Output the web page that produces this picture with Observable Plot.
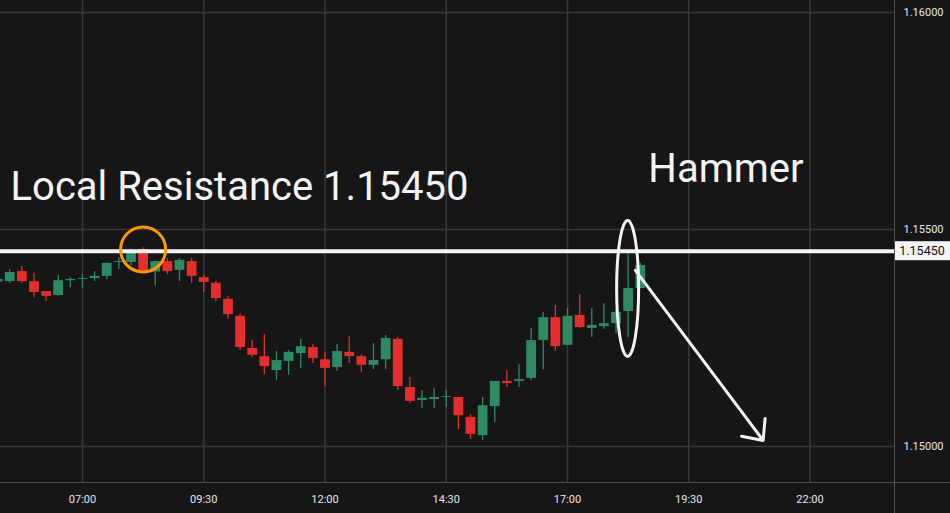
<!DOCTYPE html>
<html><head><meta charset="utf-8">
<script src="https://cdn.jsdelivr.net/npm/d3@7"></script>
<script src="https://cdn.jsdelivr.net/npm/@observablehq/plot@0.6"></script>
<style>
html,body{margin:0;padding:0;background:#161616;}
#chart{width:950px;height:513px;overflow:hidden;}
svg{display:block;}
</style></head><body><div id="chart"></div>
<script>
// 15-minute EUR/USD-style candles
const times = ["05:15","05:30","05:45","06:00","06:15","06:30","06:45","07:00","07:15","07:30","07:45","08:00","08:15","08:30","08:45","09:00","09:15","09:30","09:45","10:00","10:15","10:30","10:45","11:00","11:15","11:30","11:45","12:00","12:15","12:30","12:45","13:00","13:15","13:30","13:45","14:00","14:15","14:30","14:45","15:00","15:15","15:30","15:45","16:00","16:15","16:30","16:45","17:00","17:15","17:30","17:45","18:00","18:15","18:30"];
const open  = [1.15379,1.15380,1.15403,1.15380,1.15357,1.15348,1.15382,1.15385,1.15387,1.15392,1.15424,1.15424,1.15454,1.15402,1.15426,1.15406,1.15426,1.15389,1.15376,1.15339,1.15300,1.15226,1.15207,1.15175,1.15196,1.15214,1.15228,1.15200,1.15182,1.15217,1.15207,1.15187,1.15200,1.15247,1.15136,1.15106,1.15108,1.15113,1.15113,1.15067,1.15025,1.15092,1.15150,1.15150,1.15157,1.15244,1.15297,1.15233,1.15302,1.15272,1.15276,1.15283,1.15311,1.15364];
const high  = [1.15387,1.15408,1.15415,1.15399,1.15357,1.15394,1.15389,1.15396,1.15403,1.15422,1.15435,1.15455,1.15458,1.15426,1.15433,1.15433,1.15433,1.15394,1.15380,1.15346,1.15306,1.15244,1.15258,1.15219,1.15221,1.15247,1.15235,1.15217,1.15235,1.15253,1.15212,1.15237,1.15256,1.15251,1.15159,1.15129,1.15134,1.15129,1.15113,1.15074,1.15113,1.15150,1.15175,1.15189,1.15272,1.15309,1.15325,1.15318,1.15350,1.15318,1.15329,1.15314,1.15447,1.15422];
const low   = [1.15376,1.15376,1.15376,1.15343,1.15334,1.15346,1.15366,1.15364,1.15380,1.15385,1.15408,1.15417,1.15400,1.15369,1.15396,1.15380,1.15376,1.15355,1.15334,1.15293,1.15221,1.15205,1.15166,1.15152,1.15164,1.15180,1.15191,1.15138,1.15173,1.15191,1.15170,1.15177,1.15177,1.15129,1.15099,1.15088,1.15088,1.15090,1.15039,1.15016,1.15014,1.15055,1.15136,1.15136,1.15152,1.15177,1.15219,1.15233,1.15272,1.15251,1.15270,1.15260,1.15251,1.15364];
const close = [1.15385,1.15401,1.15380,1.15355,1.15346,1.15382,1.15385,1.15387,1.15392,1.15422,1.15426,1.15449,1.15403,1.15426,1.15403,1.15429,1.15392,1.15378,1.15341,1.15304,1.15228,1.15210,1.15184,1.15198,1.15217,1.15230,1.15203,1.15180,1.15219,1.15207,1.15187,1.15198,1.15249,1.15138,1.15104,1.15111,1.15113,1.15115,1.15071,1.15028,1.15094,1.15150,1.15145,1.15154,1.15244,1.15297,1.15230,1.15300,1.15274,1.15279,1.15283,1.15309,1.15364,1.15417];

const timeTicks = ["07:00","09:30","12:00","14:30","17:00","19:30","22:00"];
const priceTicks = [1.15, 1.155, 1.16];
const resistance = 1.15450;
const resistanceLabel = "1.15450";
const viewStartMin = 318.6, viewEndMin = 1424.5;   // visible time window (minutes of day)
const priceMin = 1.1491475, priceMax = 1.1602765;   // visible price window

// annotations
const circleAt = {time: "08:15", price: 1.15454};
const ellipseAt = {time: "18:15", price: 1.15363};
const arrowFrom = {time: "18:24", price: 1.15406};
const arrowTo = {time: "21:02", price: 1.15014};
const notes = [
  {time: "05:31", price: 1.155968, text: "Local Resistance 1.15450"},
  {time: "18:40", price: 1.156382, text: "Hammer"}
];

const DAY = Date.UTC(2025, 0, 6);
const toDate = s => { const [h, m] = s.split(":").map(Number); return new Date(DAY + (h * 60 + m) * 60000); };
const minDate = m => new Date(DAY + m * 60000);

const candles = times.map((t, i) => ({time: toDate(t), open: open[i], high: high[i], low: low[i], close: close[i]}));
const GREEN = "#2f8a62", RED = "#e42d2d";
const col = d => d.close >= d.open ? GREEN : RED;
const GRID = "#383838", EDGE = "#4f4f4f", TXT = "#e6e6e6", WHITE = "#f4f4f7";

const chart = Plot.plot({
  width: 950, height: 513,
  marginLeft: 0, marginRight: 56, marginTop: 0, marginBottom: 30,
  style: {background: "#161616", color: TXT, fontFamily: "Roboto, sans-serif", fontSize: "11px"},
  color: {type: "identity"},
  x: {type: "utc", domain: [minDate(viewStartMin), minDate(viewEndMin)], label: null},
  y: {domain: [priceMin, priceMax], label: null},
  marks: [
    Plot.gridX(timeTicks.map(toDate), {stroke: GRID, strokeOpacity: 1, strokeWidth: 1.5}),
    Plot.gridY(priceTicks, {stroke: GRID, strokeOpacity: 1, strokeWidth: 1.5}),
    Plot.ruleX(candles, {x: "time", y1: "low", y2: "high", stroke: col, strokeWidth: 1.3, clip: true}),
    Plot.ruleX(candles, {x: "time", y1: "open", y2: "close", stroke: col, strokeWidth: 9.8, clip: true}),
    Plot.ruleY([resistance], {stroke: WHITE, strokeWidth: 4}),
    Plot.dot([circleAt], {x: d => toDate(d.time), y: "price", r: 22.5, stroke: "#ff9800", strokeWidth: 3, fill: "none"}),
    Plot.arrow([{a: arrowFrom, b: arrowTo}], {
      x1: d => toDate(d.a.time), y1: d => d.a.price, x2: d => toDate(d.b.time), y2: d => d.b.price,
      stroke: WHITE, strokeWidth: 3, headLength: 11, headAngle: 84, bend: 0
    }),
    Plot.text(notes, {x: d => toDate(d.time), y: "price", text: "text", fontSize: 40, fill: WHITE, textAnchor: "start", fontFamily: "Roboto, sans-serif"}),
    Plot.axisX(timeTicks.map(toDate), {tickFormat: d3.utcFormat("%H:%M"), tickSize: 0, tickPadding: 12, fill: TXT, label: null}),
    Plot.axisY(priceTicks, {anchor: "right", tickFormat: d3.format(".5f"), tickSize: 0, tickPadding: 9, fill: TXT, label: null})
  ]
});

const sx = chart.scale("x"), sy = chart.scale("y");
const NS = "http://www.w3.org/2000/svg";
const add = (tag, attrs, text) => {
  const el = document.createElementNS(NS, tag);
  for (const k in attrs) el.setAttribute(k, attrs[k]);
  if (text) el.textContent = text;
  chart.appendChild(el);
  return el;
};
// ellipse around hammer candle
add("ellipse", {cx: sx.apply(toDate(ellipseAt.time)), cy: sy.apply(ellipseAt.price), rx: 11, ry: 68, fill: "none", stroke: WHITE, "stroke-width": 3});
// panel borders
const xr = sx.apply(minDate(viewEndMin)), yb = sy.apply(priceMin);
add("line", {x1: xr + 0.5, x2: xr + 0.5, y1: 0, y2: 513, stroke: EDGE, "stroke-width": 1});
add("line", {x1: 0, x2: 950, y1: yb - 0.5, y2: yb - 0.5, stroke: EDGE, "stroke-width": 1});
// price label box
const yr = sy.apply(resistance);
add("rect", {x: xr + 1, y: yr - 9.5, width: 56, height: 19, fill: WHITE});
add("text", {x: xr + 28, y: yr, "text-anchor": "middle", "dominant-baseline": "central", fill: "#111", "font-size": 12.5, "font-family": "Roboto, sans-serif"}, resistanceLabel);

document.getElementById("chart").appendChild(chart);
</script>
</body></html>
